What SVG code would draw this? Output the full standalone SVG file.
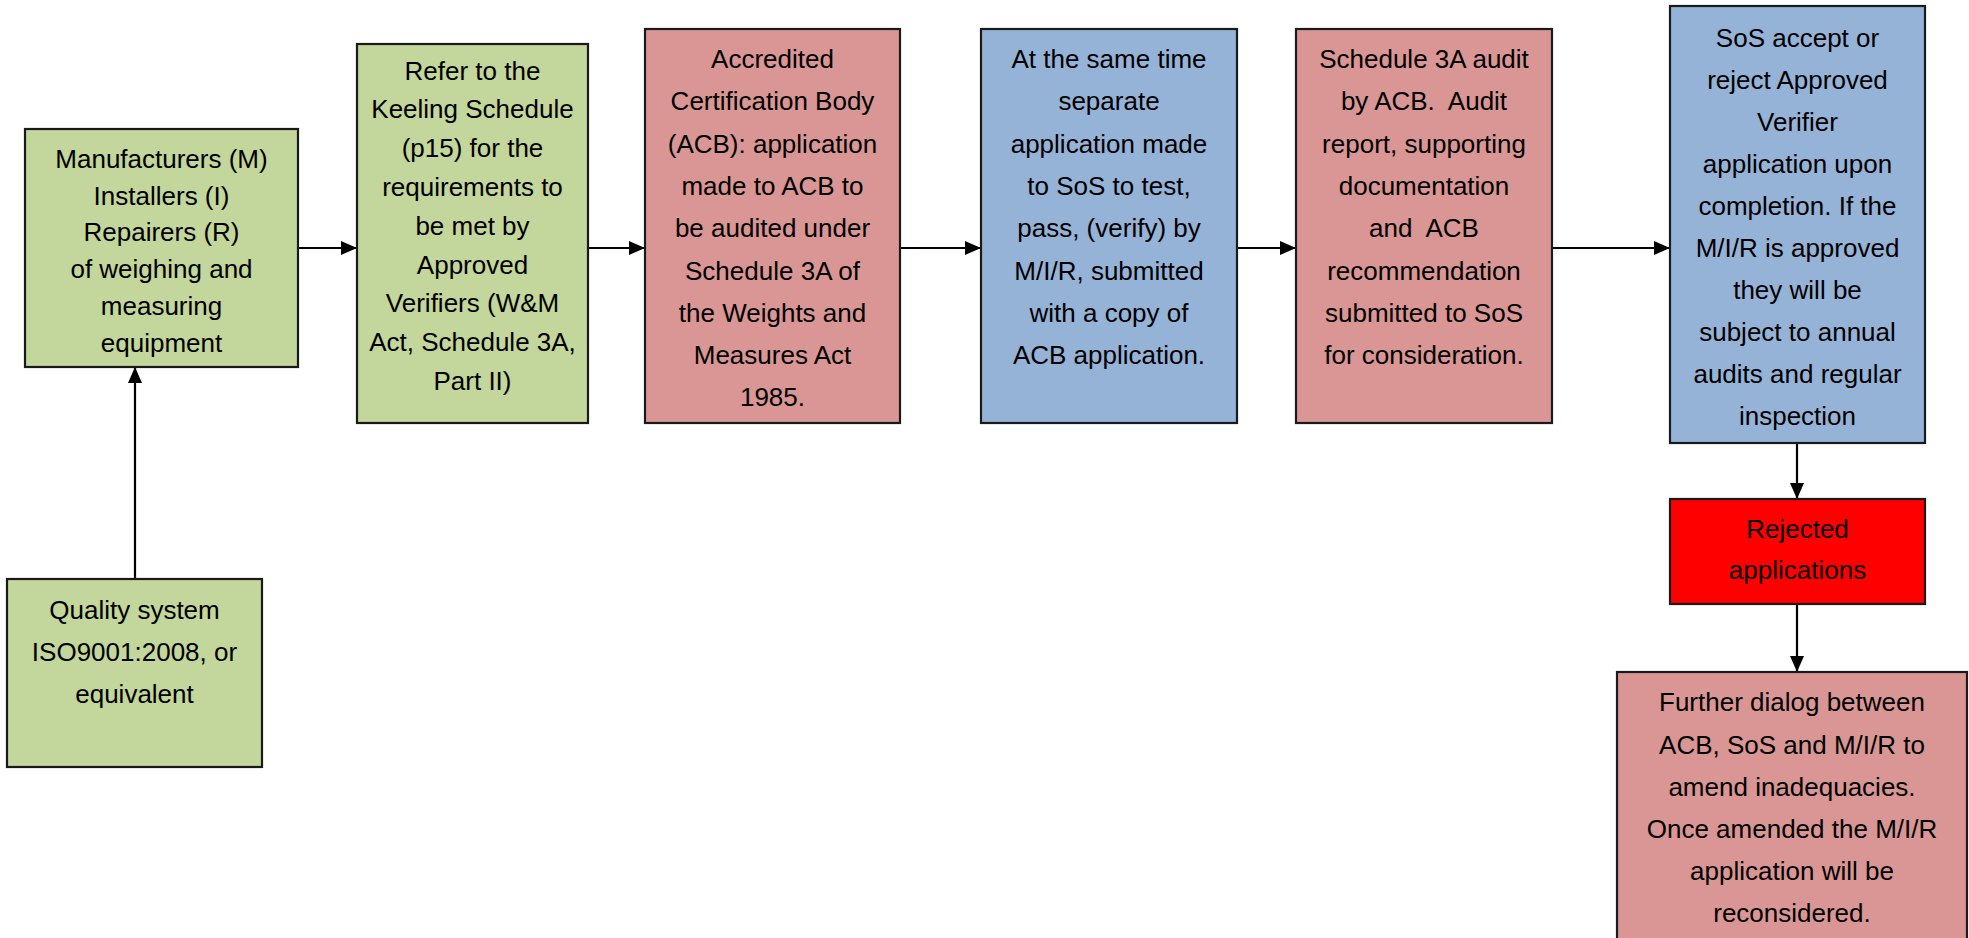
<svg xmlns="http://www.w3.org/2000/svg" width="1969" height="938" viewBox="0 0 1969 938">
<style>
.box{stroke:#1a1a1a;stroke-width:2.2}
.g{fill:#c3d69b}.p{fill:#d99694}.b{fill:#95b3d7}.r{fill:#ff0000}
text{font-family:"Liberation Sans",Arial,sans-serif;font-size:26px;fill:#000;text-anchor:middle}
.c{stroke:#000;stroke-width:2.2;fill:none;marker-end:url(#ah)}
</style>
<defs>
<marker id="ah" markerUnits="userSpaceOnUse" markerWidth="17" markerHeight="15" refX="16" refY="7" orient="auto">
<path d="M0,0 L16,7 L0,14 z" fill="#000"/>
</marker>
</defs>
<rect width="1969" height="938" fill="#fff"/>
<g id="connectors">
<line class="c" x1="299" y1="248" x2="357" y2="248"/>
<line class="c" x1="589" y1="248" x2="645" y2="248"/>
<line class="c" x1="901" y1="248" x2="981" y2="248"/>
<line class="c" x1="1238" y1="248" x2="1296" y2="248"/>
<line class="c" x1="1553" y1="248" x2="1670" y2="248"/>
<line class="c" x1="1797" y1="444" x2="1797" y2="499"/>
<line class="c" x1="1797" y1="605" x2="1797" y2="672"/>
<line class="c" x1="135" y1="579" x2="135" y2="367"/>
</g>
<g id="n1">
<rect class="box g" x="25" y="129" width="273" height="238"/>
<text x="161.5" y="168">Manufacturers (M)</text>
<text x="161.5" y="205">Installers (I)</text>
<text x="161.5" y="241">Repairers (R)</text>
<text x="161.5" y="278">of weighing and</text>
<text x="161.5" y="315">measuring</text>
<text x="161.5" y="352">equipment</text>
</g>
<g id="n2">
<rect class="box g" x="357" y="44" width="231" height="379"/>
<text x="472.5" y="80">Refer to the</text>
<text x="472.5" y="118">Keeling Schedule</text>
<text x="472.5" y="157">(p15) for the</text>
<text x="472.5" y="196">requirements to</text>
<text x="472.5" y="235">be met by</text>
<text x="472.5" y="274">Approved</text>
<text x="472.5" y="312">Verifiers (W&amp;M</text>
<text x="472.5" y="351">Act, Schedule 3A,</text>
<text x="472.5" y="390">Part II)</text>
</g>
<g id="n3">
<rect class="box p" x="645" y="29" width="255" height="394"/>
<text x="772.5" y="68">Accredited</text>
<text x="772.5" y="110">Certification Body</text>
<text x="772.5" y="153">(ACB): application</text>
<text x="772.5" y="195">made to ACB to</text>
<text x="772.5" y="237">be audited under</text>
<text x="772.5" y="280">Schedule 3A of</text>
<text x="772.5" y="322">the Weights and</text>
<text x="772.5" y="364">Measures Act</text>
<text x="772.5" y="406">1985.</text>
</g>
<g id="n4">
<rect class="box b" x="981" y="29" width="256" height="394"/>
<text x="1109" y="68">At the same time</text>
<text x="1109" y="110">separate</text>
<text x="1109" y="153">application made</text>
<text x="1109" y="195">to SoS to test,</text>
<text x="1109" y="237">pass, (verify) by</text>
<text x="1109" y="280">M/I/R, submitted</text>
<text x="1109" y="322">with a copy of</text>
<text x="1109" y="364">ACB application.</text>
</g>
<g id="n5">
<rect class="box p" x="1296" y="29" width="256" height="394"/>
<text x="1424" y="68">Schedule 3A audit</text>
<text x="1424" y="110" xml:space="preserve">by ACB.  Audit</text>
<text x="1424" y="153">report, supporting</text>
<text x="1424" y="195">documentation</text>
<text x="1424" y="237" xml:space="preserve">and  ACB</text>
<text x="1424" y="280">recommendation</text>
<text x="1424" y="322">submitted to SoS</text>
<text x="1424" y="364">for consideration.</text>
</g>
<g id="n6">
<rect class="box b" x="1670" y="6" width="255" height="437"/>
<text x="1797.5" y="47">SoS accept or</text>
<text x="1797.5" y="89">reject Approved</text>
<text x="1797.5" y="131">Verifier</text>
<text x="1797.5" y="173">application upon</text>
<text x="1797.5" y="215">completion. If the</text>
<text x="1797.5" y="257">M/I/R is approved</text>
<text x="1797.5" y="299">they will be</text>
<text x="1797.5" y="341">subject to annual</text>
<text x="1797.5" y="383">audits and regular</text>
<text x="1797.5" y="425">inspection</text>
</g>
<g id="n7">
<rect class="box r" x="1670" y="499" width="255" height="105"/>
<text x="1797.5" y="538">Rejected</text>
<text x="1797.5" y="579">applications</text>
</g>
<g id="n8">
<rect class="box p" x="1617" y="672" width="350" height="290"/>
<text x="1792" y="711">Further dialog between</text>
<text x="1792" y="754">ACB, SoS and M/I/R to</text>
<text x="1792" y="796">amend inadequacies.</text>
<text x="1792" y="838">Once amended the M/I/R</text>
<text x="1792" y="880">application will be</text>
<text x="1792" y="922">reconsidered.</text>
</g>
<g id="n9">
<rect class="box g" x="7" y="579" width="255" height="188"/>
<text x="134.5" y="619">Quality system</text>
<text x="134.5" y="661">ISO9001:2008, or</text>
<text x="134.5" y="703">equivalent</text>
</g>
</svg>
